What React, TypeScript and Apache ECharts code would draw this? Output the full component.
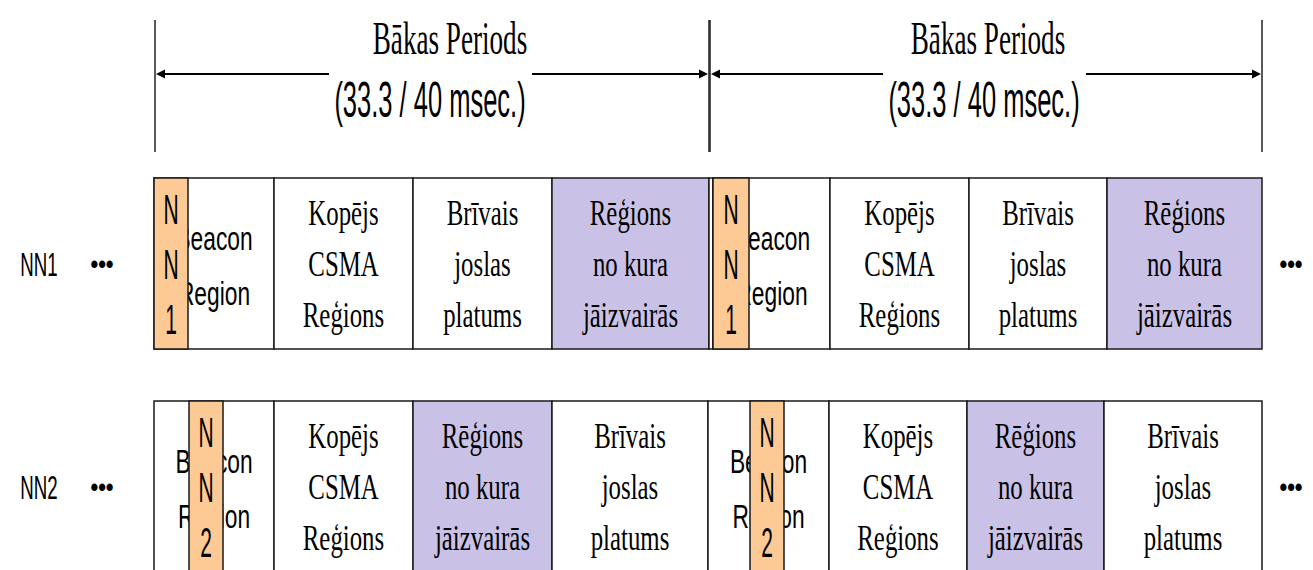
import React, { useEffect, useRef } from "react";
import * as echarts from "echarts";

// ---------- data ----------
const rows = ["NN1", "NN2"];
const periodBounds = [0, 555, 1108];
const periodTitle = "Bākas Periods";
const periodSubtitle = "(33.3 / 40 msec.)";

const cellLabels: Record<string, string> = {
  beacon: "Beacon\nRegion",
  csma: "Kopējs\nCSMA\nReģions",
  free: "Brīvais\njoslas\nplatums",
  avoid: "Rēģions\nno kura\njāizvairās",
  gap: "",
};

const row1Kinds = ["beacon", "csma", "free", "avoid", "gap", "beacon", "csma", "free", "avoid"];
const row1Widths = [120, 139, 139, 157, 4, 117, 139, 138, 155];
const row2Kinds = ["beacon", "csma", "avoid", "free", "beacon", "csma", "avoid", "free"];
const row2Widths = [120, 139, 139, 156, 121, 138, 137, 158];

const slotStarts = [
  [0, 559],
  [35, 596],
];
const slotWidths = [
  [34, 36],
  [34, 34],
];

// ---------- layout / styles ----------
const SERIF = "'Liberation Serif', 'Times New Roman', serif";
const SANS = "'Liberation Sans', Arial, sans-serif";
const PURPLE = "#cac1e6";
const ORANGE = "#fdca96";
const STROKE = "#1a1a1a";
const H = 570;
const ROW0_CENTER = 263.5;
const ROW_PITCH = 223;
const CELL_FRAC = 171 / ROW_PITCH;

const kindFill: Record<string, string> = {
  beacon: "#ffffff",
  csma: "#ffffff",
  free: "#ffffff",
  avoid: PURPLE,
  gap: "#ffffff",
};

const cellData: { value: number[]; kind: string }[] = [];
[
  [row1Kinds, row1Widths],
  [row2Kinds, row2Widths],
].forEach(([kinds, widths], r) => {
  let x = 0;
  (kinds as string[]).forEach((k, i) => {
    const w = (widths as number[])[i];
    cellData.push({ value: [r, x, x + w], kind: k });
    x += w;
  });
});

const slotData: { value: number[]; label: string }[] = [];
slotStarts.forEach((starts, r) => {
  starts.forEach((s, i) => {
    slotData.push({ value: [r, s, s + slotWidths[r][i]], label: rows[r].split("").join("\n") });
  });
});

const periodData = periodBounds.slice(0, -1).map((b, i) => [b, periodBounds[i + 1]]);

export default function App() {
  const ref = useRef<HTMLDivElement>(null);
  useEffect(() => {
    if (!ref.current) return;
    const chart = echarts.init(ref.current, undefined, { renderer: "svg" });

    const cellSeries = {
      type: "custom",
      z: 2,
      encode: { x: [1, 2], y: 0 },
      data: cellData.map((d) => d.value),
      renderItem: (params: any, api: any) => {
        const d = cellData[params.dataIndex];
        const row = api.value(0);
        const p0 = api.coord([api.value(1), row]);
        const p1 = api.coord([api.value(2), row]);
        const h = api.size([0, 1])[1] * CELL_FRAC;
        const top = p0[1] - h / 2;
        const cx = (p0[0] + p1[0]) / 2;
        const children: any[] = [
          {
            type: "rect",
            shape: { x: p0[0], y: top, width: p1[0] - p0[0], height: h },
            style: { fill: kindFill[d.kind], stroke: STROKE, lineWidth: 1.5 },
          },
        ];
        const label = cellLabels[d.kind];
        if (label) {
          const isBeacon = d.kind === "beacon";
          children.push({
            type: "text",
            x: cx,
            y: p0[1] + (isBeacon ? 2 : 0),
            scaleX: isBeacon ? 0.67 : 0.69,
            style: {
              text: label,
              x: 0,
              y: 0,
              align: "center",
              verticalAlign: "middle",
              fontFamily: isBeacon ? SANS : SERIF,
              fontSize: isBeacon ? 34 : 36,
              lineHeight: isBeacon ? 55 : 51,
              fill: "#000",
            },
          });
        }
        return { type: "group", children };
      },
    };

    const slotSeries = {
      type: "custom",
      z: 3,
      encode: { x: [1, 2], y: 0 },
      data: slotData.map((d) => d.value),
      renderItem: (params: any, api: any) => {
        const d = slotData[params.dataIndex];
        const row = api.value(0);
        const p0 = api.coord([api.value(1), row]);
        const p1 = api.coord([api.value(2), row]);
        const h = api.size([0, 1])[1] * CELL_FRAC;
        const top = p0[1] - h / 2;
        return {
          type: "group",
          children: [
            {
              type: "rect",
              shape: { x: p0[0], y: top, width: p1[0] - p0[0], height: h },
              style: { fill: ORANGE, stroke: STROKE, lineWidth: 1.5 },
            },
            {
              type: "text",
              x: (p0[0] + p1[0]) / 2,
              y: p0[1] + 1,
              scaleX: 0.5,
              style: {
                text: d.label,
                x: 0,
                y: 0,
                align: "center",
                verticalAlign: "middle",
                fontFamily: SANS,
                fontSize: 42,
                lineHeight: 55,
                fill: "#000",
              },
            },
          ],
        };
      },
    };

    const headerSeries = {
      type: "custom",
      z: 4,
      encode: { x: [0, 1] },
      data: periodData,
      renderItem: (params: any, api: any) => {
        const p0 = api.coord([api.value(0), 0]);
        const p1 = api.coord([api.value(1), 0]);
        const h = api.size([0, 1])[1] * CELL_FRAC;
        const top = p0[1] - h / 2;
        const ay = top - 104;
        const xs = p0[0] + 1;
        const xe = p1[0];
        const mid = (xs + xe) / 2 - 2;
        const titleShift = params.dataIndex === 0 ? 18 : 2;
        const lineStyle = { stroke: "#000", lineWidth: 2 };
        const head = 9;
        const half = 4.5;
        const children: any[] = [
          { type: "line", shape: { x1: xs, y1: top - 158, x2: xs, y2: top - 26 }, style: { stroke: "#222", lineWidth: 1.5 } },
          { type: "line", shape: { x1: xe, y1: top - 158, x2: xe, y2: top - 26 }, style: { stroke: "#222", lineWidth: 1.5 } },
          { type: "line", shape: { x1: xs + head, y1: ay, x2: mid - 101, y2: ay }, style: lineStyle },
          { type: "line", shape: { x1: mid + 102, y1: ay, x2: xe - head, y2: ay }, style: lineStyle },
          {
            type: "polygon",
            shape: { points: [[xs + 1, ay], [xs + 1 + head, ay - half], [xs + 1 + head, ay + half]] },
            style: { fill: "#000" },
          },
          {
            type: "polygon",
            shape: { points: [[xe - 1, ay], [xe - 1 - head, ay - half], [xe - 1 - head, ay + half]] },
            style: { fill: "#000" },
          },
          {
            type: "text",
            x: mid + 2 + titleShift,
            y: top - 140,
            scaleX: 0.59,
            style: {
              text: periodTitle,
              x: 0,
              y: 0,
              align: "center",
              verticalAlign: "middle",
              fontFamily: SERIF,
              fontSize: 46,
              fill: "#000",
            },
          },
          {
            type: "text",
            x: mid,
            y: top - 79,
            scaleX: 0.51,
            style: {
              text: periodSubtitle,
              x: 0,
              y: 0,
              align: "center",
              verticalAlign: "middle",
              fontFamily: SANS,
              fontSize: 50,
              fill: "#000",
            },
          },
        ];
        return { type: "group", children };
      },
    };

    const labelSeries = {
      type: "custom",
      z: 4,
      encode: { x: 0, y: 1 },
      data: rows.map((_, i) => [0, i]),
      renderItem: (params: any, api: any) => {
        const i = api.value(1);
        const p = api.coord([0, i]);
        const pe = api.coord([periodBounds[periodBounds.length - 1], i]);
        const dots = (x: number) => ({
          type: "text",
          x,
          y: p[1],
          scaleX: 0.85,
          style: {
            text: "•••",
            x: 0,
            y: 0,
            align: "center",
            verticalAlign: "middle",
            fontFamily: SANS,
            fontSize: 26,
            fontWeight: "bold",
            fill: "#000",
          },
        });
        return {
          type: "group",
          children: [
            {
              type: "text",
              x: p[0] - 115,
              y: p[1] + 1,
              scaleX: 0.55,
              style: {
                text: rows[i],
                x: 0,
                y: 0,
                align: "center",
                verticalAlign: "middle",
                fontFamily: SANS,
                fontSize: 34,
                fill: "#000",
              },
            },
            dots(p[0] - 52),
            dots(pe[0] + 29),
          ],
        };
      },
    };

    chart.setOption({
      animation: false,
      backgroundColor: "#ffffff",
      grid: { left: 154, top: 0, width: 1108, height: H, outerBoundsMode: "none" },
      xAxis: { type: "value", min: 0, max: 1108, show: false },
      yAxis: {
        type: "value",
        inverse: true,
        min: -ROW0_CENTER / ROW_PITCH,
        max: (H - ROW0_CENTER) / ROW_PITCH,
        show: false,
      },
      series: [cellSeries, slotSeries, headerSeries, labelSeries],
    } as any);

    return () => chart.dispose();
  }, []);

  return (
    <div
      ref={ref}
      style={{ position: "fixed", left: 0, top: 0, width: 1313, height: 570 }}
    />
  );
}
